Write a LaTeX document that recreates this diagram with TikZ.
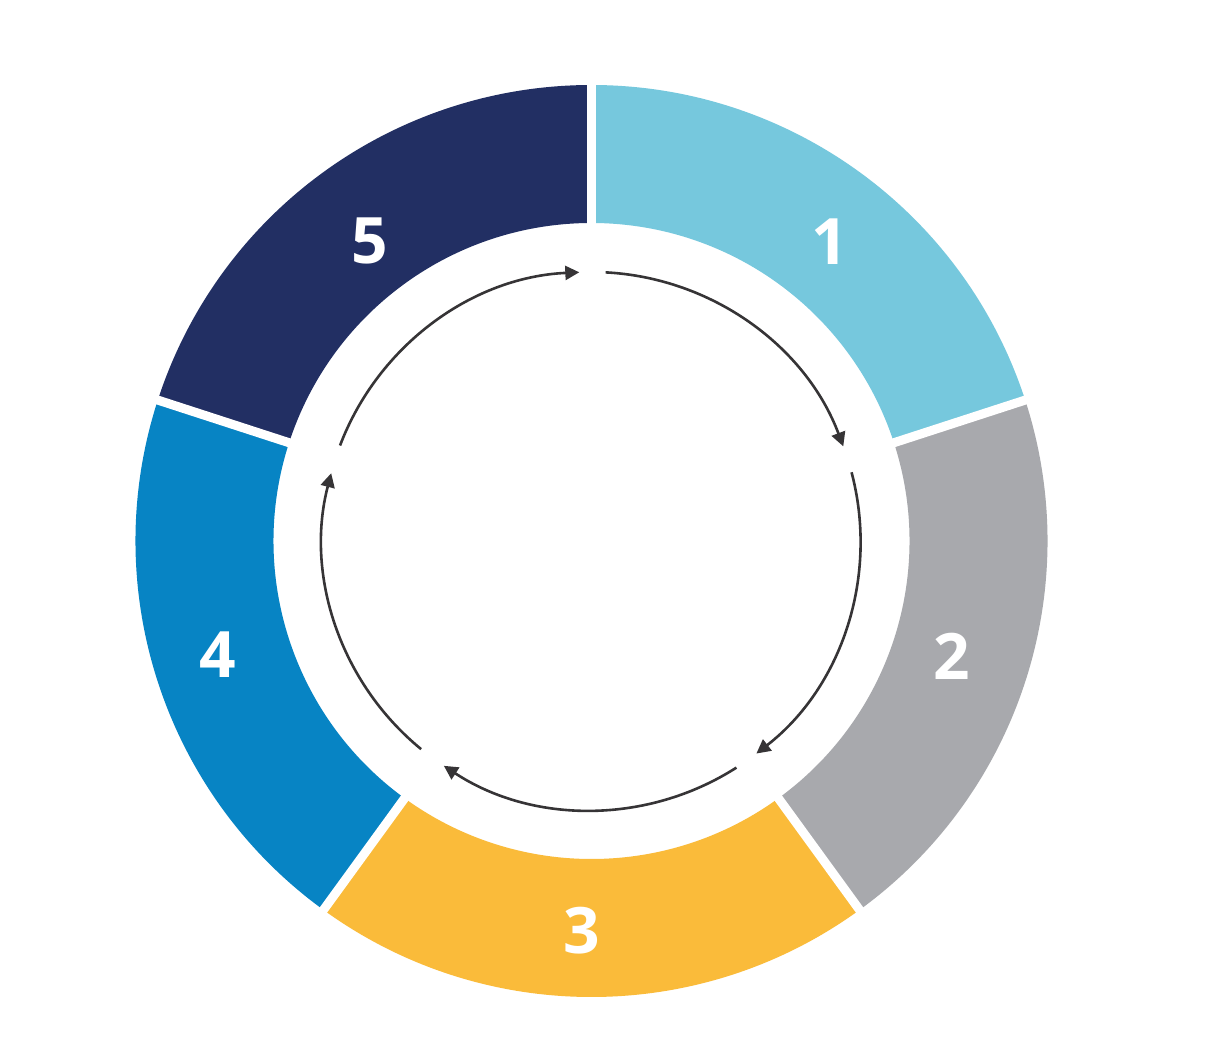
\documentclass[tikz,border=0pt]{standalone}
\usepackage{fontspec}
\setmainfont{Open Sans}
\usetikzlibrary{arrows.meta,calc}
\definecolor{segA}{HTML}{76C8DD}
\definecolor{segB}{HTML}{A8A9AD}
\definecolor{segC}{HTML}{FABB3A}
\definecolor{segD}{HTML}{0784C4}
\definecolor{segE}{HTML}{222F63}
\definecolor{flowc}{HTML}{363436}
\tikzset{
  gap/.style={white, line width=9pt},
  flow/.style={flowc, line width=2.6pt, -{Triangle[length=14pt,width=14pt]}},
  num/.style={white, font=\fontsize{64}{64}\selectfont\bfseries, inner sep=0pt, anchor=center}
}
\begin{document}
\begin{tikzpicture}[x=1pt,y=1pt]
\useasboundingbox (0,0) rectangle (1205,1061);
\fill[white] (0,0) rectangle (1205,1061);
\coordinate (O) at (591.5,520);
% segments
\fill[segA, shift={(O)}] (90:456) arc[start angle=90, end angle=18, radius=456] -- (18:318) arc[start angle=18, end angle=90, radius=318] -- cycle;
\fill[segB, shift={(O)}] (18:456) arc[start angle=18, end angle=-54, radius=456] -- (-54:318) arc[start angle=-54, end angle=18, radius=318] -- cycle;
\fill[segC, shift={(O)}] (-54:456) arc[start angle=-54, end angle=-126, radius=456] -- (-126:318) arc[start angle=-126, end angle=-54, radius=318] -- cycle;
\fill[segD, shift={(O)}] (-126:456) arc[start angle=-126, end angle=-198, radius=456] -- (-198:318) arc[start angle=-198, end angle=-126, radius=318] -- cycle;
\fill[segE, shift={(O)}] (162:456) arc[start angle=162, end angle=90, radius=456] -- (90:318) arc[start angle=90, end angle=162, radius=318] -- cycle;
% gaps
\foreach \b in {90,18,-54,-126,162} {
  \draw[gap, shift={(O)}] (\b:300) -- (\b:470);
}
% labels
\node[num] (n1) at (830,819) {1};
\node[num] (n2) at (952,405) {2};
\node[num] (n3) at (582,130) {3};
\node[num] (n4) at (218,406) {4};
\node[num] (n5) at (370,820) {5};
% cycle arrows
\coordinate (s1) at ($(O)+(87:269)$);
\coordinate (s2) at ($(O)+(14.8:269)$);
\coordinate (s3) at ($(O)+(-57.4:269)$);
\coordinate (s4) at ($(O)+(-129.3:269)$);
\coordinate (s5) at ($(O)+(159.2:269)$);
\draw[flow] (s1) arc[start angle=87, end angle=20.6, radius=269];
\draw[flow] (s2) arc[start angle=14.8, end angle=-52.2, radius=269];
\draw[flow] (s3) arc[start angle=-57.4, end angle=-123.3, radius=269];
\draw[flow] (s4) arc[start angle=-129.3, end angle=-194.6, radius=269];
\draw[flow] (s5) arc[start angle=159.2, end angle=92.6, radius=269];
\end{tikzpicture}
\end{document}
